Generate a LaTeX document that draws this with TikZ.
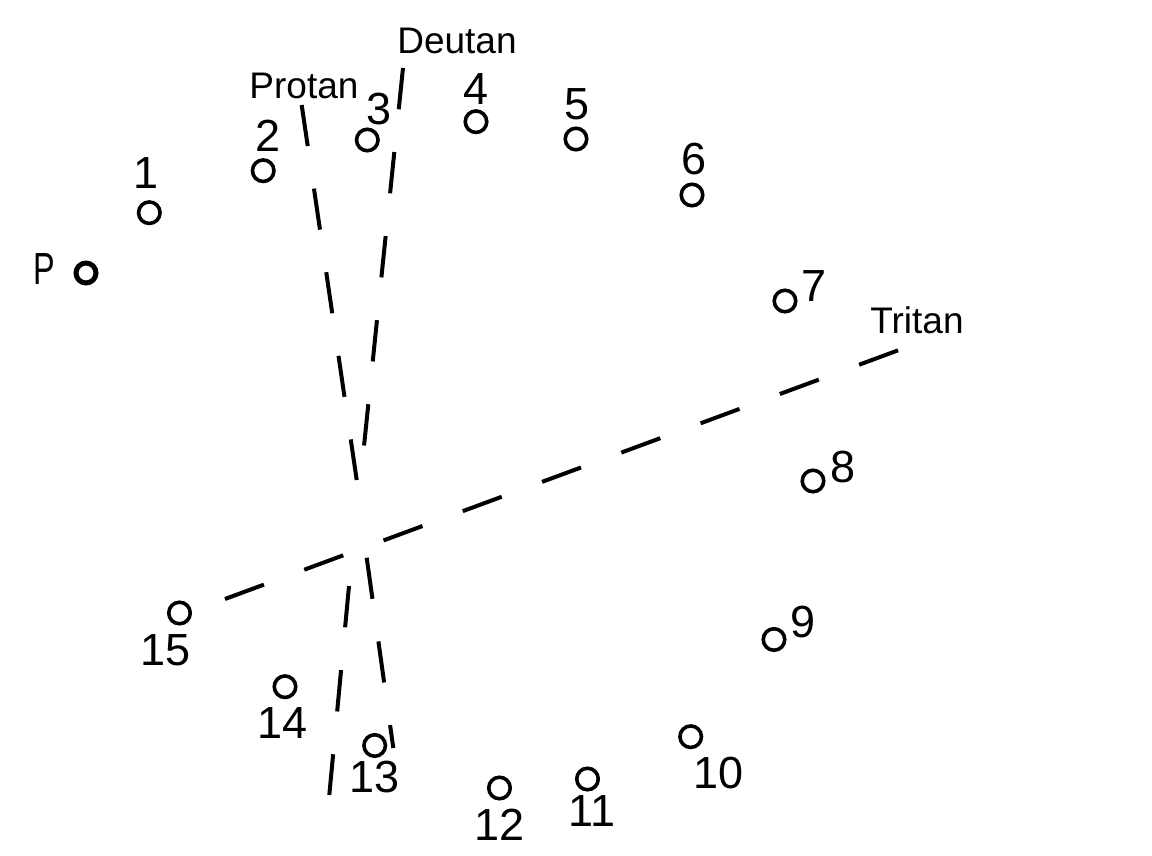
\documentclass[tikz,border=0pt]{standalone}
\usepackage{fontspec}
\setmainfont{Liberation Sans}
\begin{document}
\begin{tikzpicture}[x=1pt,y=-1pt,
  dot/.style={circle,draw=black,line width=3.6pt,minimum size=21.5pt,inner sep=0pt},
  pdot/.style={dot,line width=5pt,minimum size=20pt},
  num/.style={inner sep=0pt,font=\fontsize{45}{50}\selectfont},
  lab/.style={inner sep=0pt,anchor=base,font=\fontsize{37}{40}\selectfont},
  axis/.style={line width=4pt,dash pattern=on 41.5pt off 43pt,line cap=butt}]
\useasboundingbox (0,0) rectangle (1152,856);
% circles
\node[pdot] (cP) at (86,273) {};
\node[dot] (c1) at (149.3,212.7) {};
\node[dot] (c2) at (263.2,170.7) {};
\node[dot] (c3) at (367.3,140) {};
\node[dot] (c4) at (476,121.7) {};
\node[dot] (c5) at (576,139) {};
\node[dot] (c6) at (692,195) {};
\node[dot] (c7) at (785,301) {};
\node[dot] (c8) at (813,481) {};
\node[dot] (c9) at (774,639.5) {};
\node[dot] (c10) at (690.7,736.7) {};
\node[dot] (c11) at (587.5,779) {};
\node[dot] (c12) at (499.5,788) {};
\node[dot] (c13) at (374.7,745.5) {};
\node[dot] (c14) at (285,686.7) {};
\node[dot] (c15) at (179.5,613) {};
% numbers
\node[num] (lP) at (44.5,269) {\scalebox{0.72}[1]{P}};
\node[num] (l1) at (146.5,173.5) {1};
\node[num] (l2) at (267.7,136) {2};
\node[num] (l3) at (379,109) {3};
\node[num] (l4) at (476,89.5) {4};
\node[num] (l5) at (577,104) {5};
\node[num] (l6) at (693.6,159) {6};
\node[num] (l7) at (814.5,286) {7};
\node[num] (l8) at (843.5,467.5) {8};
\node[num] (l9) at (803,622) {9};
\node[num] (l10) at (718.5,773) {10};
\node[num] (l11) at (592,811.5) {11};
\node[num] (l12) at (499.5,825) {12};
\node[num] (l13) at (375,777.5) {13};
\node[num] (l14) at (282.6,723.3) {14};
\node[num] (l15) at (165.8,650.3) {15};
% axis labels
\node[lab] (protan) at (304,98.3) {Protan};
\node[lab] (deutan) at (457,53.3) {Deutan};
\node[lab] (tritan) at (917,333) {Tritan};
% axis lines
\coordinate (pa) at (301.7,105);
\coordinate (pb) at (356.7,480);
\coordinate (pc) at (366.7,557.7);
\coordinate (pd) at (393.3,748);
\coordinate (da) at (403,68);
\coordinate (db) at (364,446);
\coordinate (dc) at (349,586);
\coordinate (dd) at (329.3,795);
\coordinate (ta) at (225,599);
\coordinate (tb) at (899,350);
\draw[axis] (pa) -- (pb);
\draw[axis] (pc) -- (pd);
\draw[axis] (da) -- (db);
\draw[axis] (dc) -- (dd);
\draw[axis] (ta) -- (tb);
\end{tikzpicture}
\end{document}
